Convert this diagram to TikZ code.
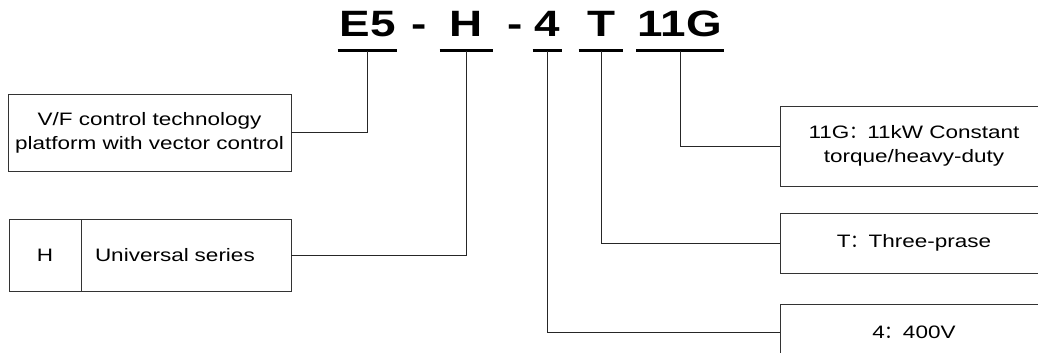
\documentclass[tikz,border=0pt]{standalone}
\usepackage{fontspec}
\setmainfont{Liberation Sans}[FakeStretch=1.25]
\newfontfamily\cjk{Noto Sans CJK SC}
\newcommand{\fwcolon}{{\cjk ：}}

\tikzset{
  code/.style={anchor=base,font=\fontsize{27.5}{30}\selectfont\bfseries,inner xsep=1pt,text depth=0pt,inner ysep=10pt},
  box/.style={draw=black!80,line width=0.6pt,font=\fontsize{13.5}{18}\selectfont,align=center,inner sep=0pt},
  uline/.style={line width=2.3pt},
  link/.style={draw=black!85,line width=0.6pt}
}

\begin{document}
\begin{tikzpicture}[x=0.75pt,y=-0.75pt]
\useasboundingbox (0,0) rectangle (1038,353);
\clip (0,0) rectangle (1038,353);

    % model code
    \node[code,minimum width=44.25pt] (E) at (367.5,37) {E5};
    \node[code,inner sep=0pt] at (419,37) {-};
    \node[code,minimum width=39.75pt] (H) at (466.5,37) {H};
    \node[code,inner sep=0pt] at (515,37) {-};
    \node[code,minimum width=21.75pt] (V) at (547.5,37) {4};
    \node[code,minimum width=33pt] (T) at (601,37) {T};
    \node[code,minimum width=60pt] (G) at (680,37) {11G};

    \foreach \n in {E,H,V,T,G}
      \draw[uline] (\n.south west) -- (\n.south east);

    % left boxes
    \node[box,minimum width=212.25pt,minimum height=57.75pt] (vf) at (149.5,132.5)
      {V/F control technology\\platform with vector control};
    \node[box,minimum width=54pt,minimum height=54pt] (hs) at (45,255) {H};
    \node[box,minimum width=157.5pt,minimum height=54pt,text width=136.5pt,align=left] (us) at (186,255)
      {Universal series};

    % right boxes
    \node[box,minimum width=200pt,minimum height=60pt] (kw) at (914,146)
      {11G\fwcolon11kW Constant\\torque/heavy-duty};
    \node[box,minimum width=200pt,minimum height=45pt] (tp) at (914,243)
      {T\fwcolon Three-prase};
    \node[box,minimum width=200pt,minimum height=42pt] (vo) at (914,332)
      {4\fwcolon 400V};

    \path[link] (E.south) |- (vf.east);
    \path[link] (H.south) |- (us.east);
    \path[link] (V.south) |- (vo.west);
    \path[link] (T.south) |- (tp.west);
    \path[link] (G.south) |- (kw.west);
\end{tikzpicture}
\end{document}
